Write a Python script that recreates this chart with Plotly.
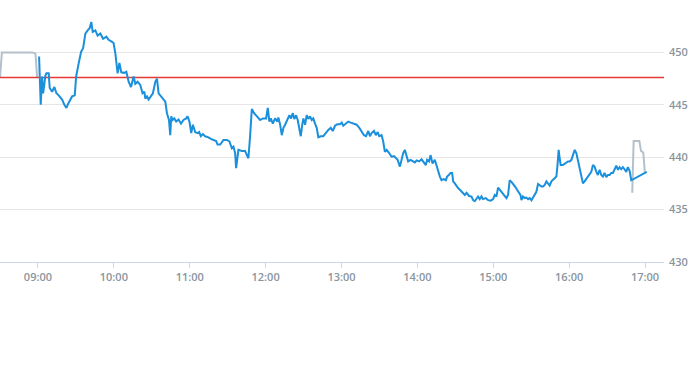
import pandas as pd
import plotly.graph_objects as go

# ---- data (minutes from 09:00, price) ----
session_min = [0.9, 2.2, 3.3, 4.1, 5.1, 5.9, 6.7, 8.5, 9.3, 11.2, 13.0, 14.6, 16.4, 19.1, 20.9, 22.5, 24.3, 27.0, 29.1, 30.2,
               32.2, 34.1, 35.7, 37.5, 39.3, 40.9, 42.2, 43.3, 45.4, 47.2, 49.3, 51.5, 54.1, 55.9, 58.6, 59.8, 61.2, 63.0, 64.4, 65.9,
               68.3, 69.9, 71.7, 73.6, 75.6, 77.0, 78.8, 80.9, 82.7, 84.1, 84.9, 86.2, 87.5, 89.4, 90.9, 92.8, 94.1, 95.4, 96.7, 98.8,
               100.7, 102.0, 103.6, 104.6, 105.4, 106.4, 107.8, 109.3, 111.2, 113.1, 115.1, 117.2, 118.3, 119.8, 121.2, 122.5, 124.3, 126.2, 127.5, 128.8,
               130.4, 132.2, 134.8, 136.7, 138.8, 140.9, 142.0, 144.1, 146.7, 149.4, 151.4, 153.3, 154.6, 155.9, 156.7, 157.7, 158.5, 161.2, 163.8, 165.2,
               166.4, 167.8, 169.1, 170.9, 173.1, 175.7, 177.8, 180.4, 181.7, 183.0, 184.1, 185.7, 187.5, 189.3, 190.1, 191.5, 192.8, 194.1, 195.4, 197.2,
               198.8, 200.1, 201.5, 202.7, 204.1, 205.4, 206.7, 207.8, 209.1, 209.9, 211.2, 212.5, 213.8, 215.1, 216.5, 217.7, 219.1, 220.4, 221.7, 223.6,
               225.6, 227.8, 229.6, 231.5, 233.1, 234.9, 236.7, 238.8, 240.2, 241.4, 243.6, 245.4, 247.3, 249.3, 252.0, 254.1, 256.0, 257.8, 259.4, 261.2,
               262.5, 263.8, 265.7, 267.2, 268.6, 269.9, 271.7, 273.0, 274.3, 275.7, 277.7, 279.6, 281.5, 283.0, 284.4, 286.2, 287.5, 288.8, 290.1, 291.5,
               292.7, 294.6, 296.2, 298.0, 299.4, 301.4, 303.3, 305.1, 306.7, 307.7, 309.3, 310.4, 312.0, 313.8, 315.0, 316.3, 317.8, 319.1, 320.9, 322.5,
               323.5, 324.9, 326.2, 327.5, 328.3, 329.6, 331.0, 332.2, 333.6, 334.9, 336.2, 337.5, 338.9, 340.9, 342.8, 344.1, 345.4, 346.7, 348.0, 349.3,
               350.7, 351.9, 354.1, 355.9, 358.0, 359.9, 361.2, 362.5, 363.8, 365.1, 366.5, 367.7, 369.1, 370.4, 371.7, 373.0, 374.4, 376.2, 377.8, 378.8,
               380.4, 381.5, 382.3, 383.5, 384.9, 386.2, 387.5, 388.8, 390.2, 391.4, 392.8, 394.1, 395.4, 396.7, 398.1, 399.3, 400.7, 402.0, 403.3, 404.6,
               406.0, 407.2, 408.6, 409.9, 410.7, 411.7, 412.5, 413.3, 415.1, 417.2, 419.1, 420.4, 421.8, 423.0, 424.4, 425.7, 427.0, 428.3, 429.6, 430.9,
               432.2, 434.1, 435.6, 437.5, 438.8, 440.1, 441.5, 442.7, 444.1, 445.4, 446.7, 448.0, 449.4, 450.6, 452.0, 453.3, 454.6, 455.9, 457.3, 458.6,
               459.9, 461.2, 462.5, 463.8, 465.2, 466.4, 467.8, 469.1, 481.4]
session_px = [449.6, 445.0, 447.7, 446.1, 447.0, 447.8, 448.0, 448.0, 446.6, 446.25, 446.7, 446.1, 445.9, 445.5, 445.0, 444.7, 445.2, 445.8, 445.9, 447.7,
              448.95, 450.05, 450.4, 451.8, 452.1, 452.3, 452.9, 451.95, 452.1, 451.6, 451.8, 451.3, 451.5, 451.2, 451.0, 450.9, 449.9, 448.0, 449.0, 448.1,
              448.05, 448.15, 447.2, 446.7, 447.7, 447.0, 447.2, 446.9, 446.1, 446.25, 445.6, 445.8, 445.5, 445.8, 446.1, 447.2, 447.5, 446.1, 445.9, 445.6,
              445.3, 444.2, 443.55, 442.1, 443.9, 443.55, 443.7, 443.4, 443.6, 443.2, 443.55, 443.7, 443.9, 443.4, 442.3, 443.1, 442.4, 442.3, 442.4, 442.0,
              442.2, 442.0, 441.9, 441.75, 441.65, 441.55, 441.2, 441.2, 441.65, 441.65, 441.5, 440.85, 441.0, 440.4, 438.95, 440.05, 440.7, 440.6, 440.6, 440.2,
              439.9, 442.1, 444.6, 444.2, 443.9, 443.55, 443.7, 443.7, 444.7, 443.4, 443.7, 443.2, 443.7, 443.4, 443.8, 443.1, 442.1, 442.8, 443.1, 443.55,
              444.0, 443.7, 444.2, 443.65, 444.0, 443.55, 442.8, 442.0, 443.2, 443.7, 443.1, 444.0, 443.65, 443.9, 443.55, 443.7, 443.2, 442.8, 441.9, 442.0,
              442.0, 442.4, 442.6, 442.8, 442.5, 443.0, 443.15, 443.15, 443.3, 443.0, 443.2, 443.4, 443.3, 443.2, 443.1, 442.8, 442.4, 442.1, 442.0, 442.5,
              442.0, 442.3, 442.5, 442.1, 442.4, 442.0, 442.1, 441.5, 440.5, 440.7, 440.4, 440.05, 440.1, 439.9, 439.75, 439.1, 439.75, 440.4, 440.7, 440.2,
              439.6, 439.75, 439.6, 439.5, 439.7, 439.6, 439.8, 439.5, 439.25, 439.75, 439.6, 440.2, 439.4, 439.75, 439.25, 438.6, 438.15, 437.8, 437.9, 437.8,
              438.15, 438.3, 438.5, 438.5, 437.7, 437.5, 437.2, 437.05, 436.9, 436.7, 436.6, 436.4, 436.6, 436.3, 436.25, 435.9, 435.8, 436.0, 436.25, 436.0,
              436.25, 436.0, 436.1, 435.9, 435.85, 436.0, 436.4, 436.25, 437.1, 436.9, 436.7, 436.5, 436.3, 436.1, 436.4, 437.8, 437.65, 437.4, 437.1, 436.9,
              436.6, 436.4, 435.9, 436.25, 436.1, 436.15, 436.0, 436.1, 435.9, 436.15, 436.5, 436.7, 437.45, 437.35, 437.2, 437.2, 437.35, 437.7, 437.5, 437.3,
              437.7, 437.85, 438.05, 438.15, 439.1, 440.7, 439.9, 439.25, 439.25, 439.4, 439.6, 439.6, 439.75, 440.2, 440.7, 440.4, 439.6, 438.8, 438.0, 437.5,
              437.7, 438.0, 438.25, 438.6, 439.25, 439.1, 438.6, 438.3, 438.8, 438.3, 438.15, 438.5, 438.1, 438.3, 438.3, 438.5, 438.5, 438.85, 439.2, 438.8,
              439.05, 438.85, 439.05, 438.85, 438.6, 439.05, 438.7, 437.8, 438.6]

pre_min = [-30.0, -28.5, -4.6, -2.0, -0.6]
pre_px = [447.6, 450.0, 450.0, 449.9, 447.6]

post_min = [469.9, 471.0, 475.5, 476.8, 478.6, 479.8]
post_px = [436.6, 441.55, 441.55, 440.6, 440.45, 438.6]

prev_close = 447.6
y_ticks = [430, 435, 440, 445, 450]
x_start_min, x_end_min = -30, 495

base = pd.Timestamp("2024-01-02 09:00")


def to_time(mins):
    return [base + pd.Timedelta(minutes=m) for m in mins]


BLUE = "#1a8fdc"
GREY = "#b4c0cb"
LABEL = "#8a949e"
RED = "#e53935"

fig = go.Figure()
fig.add_trace(go.Scatter(x=to_time(pre_min), y=pre_px, mode="lines",
                         line=dict(color=GREY, width=2), hoverinfo="skip"))
fig.add_trace(go.Scatter(x=to_time(post_min), y=post_px, mode="lines",
                         line=dict(color=GREY, width=2), hoverinfo="skip"))
fig.add_trace(go.Scatter(x=to_time([x_start_min, x_end_min]), y=[prev_close, prev_close], mode="lines",
                         line=dict(color=RED, width=1.4), hoverinfo="skip"))
fig.add_trace(go.Scatter(x=to_time(session_min), y=session_px, mode="lines",
                         line=dict(color=BLUE, width=2)))

fig.update_layout(
    width=695, height=370,
    margin=dict(l=0, r=31, t=0, b=108),
    paper_bgcolor="white", plot_bgcolor="white",
    showlegend=False,
    font=dict(family="Open Sans", size=11, color=LABEL),
    xaxis=dict(
        type="date",
        range=to_time([x_start_min, x_end_min]),
        tick0=base, dtick=3600000, tickformat="%H:%M",
        showgrid=False, zeroline=False,
        showline=True, linecolor="#ccd6eb", linewidth=1,
        ticks="outside", ticklen=5, tickcolor="#ccd6eb",
        tickfont=dict(family="Open Sans", size=11, color=LABEL, weight=600),
    ),
    yaxis=dict(
        side="right", range=[430, 455],
        tickvals=y_ticks,
        showgrid=True, gridcolor="#e6e6e6", gridwidth=1,
        zeroline=False, showline=False, ticks="",
        tickfont=dict(family="Open Sans", size=11, color=LABEL, weight=600),
        ticklabelstandoff=4,
    ),
)

fig.write_html("out.html")
